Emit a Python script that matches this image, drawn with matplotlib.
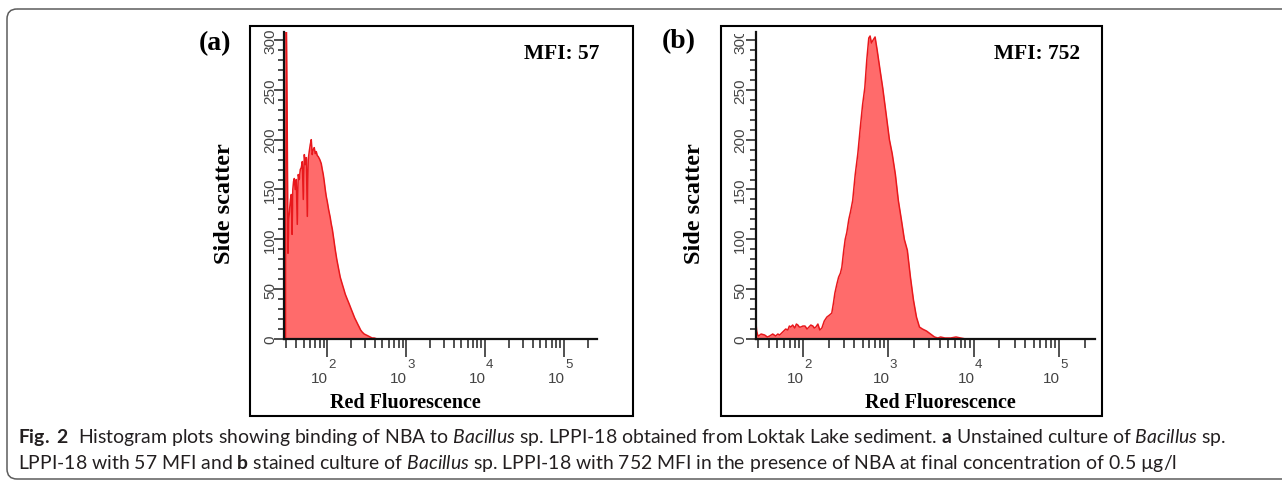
import matplotlib
matplotlib.use("Agg")
import matplotlib.pyplot as plt
from matplotlib.patches import Rectangle, FancyBboxPatch
from matplotlib.transforms import Affine2D, Bbox, blended_transform_factory

W, H, DPI = 1282, 485, 100

# ---------------- data ----------------
# Panel (a): unstained culture, histogram of red fluorescence
a_fluor = [29.6, 30.2, 31.0, 31.8, 32.6, 33.4, 34.2, 35.0, 35.8, 36.6,
           37.4, 38.2, 39.3, 40.5, 41.7, 42.9, 44.2, 45.5, 46.9, 48.3,
           49.7, 51.2, 52.7, 54.3, 55.9, 57.4, 59.1, 60.9, 62.7, 64.5,
           66.4, 68.4, 70.5, 72.6, 74.7, 76.9, 80.4, 83.9, 86.5, 89.0,
           91.6, 94.3, 97.1, 100, 104, 109, 112, 116, 121, 126,
           132, 138, 146, 155, 162, 169, 179, 190, 201, 213,
           223, 233, 243, 254, 265, 277, 294, 312, 331, 350,
           371, 393, 430]
a_count = [0, 340, 228, 86, 120, 131, 140, 145, 105, 150,
           158, 161, 150, 160, 115, 165, 160, 170, 172, 178,
           140, 185, 175, 182, 123, 180, 188, 195, 200, 185,
           190, 192, 186, 188, 184, 183, 180, 176, 170, 165,
           158, 150, 143, 138, 130, 122, 116, 110, 100, 90,
           80, 72, 62, 55, 50, 45, 40, 35, 30, 25,
           21, 18, 15, 12, 9, 7, 5, 4, 3, 2,
           1, 1, 0]

# Panel (b): NBA-stained culture
b_fluor = [28.4, 28.8, 29.6, 30.3, 32.5, 35.7, 38.5, 40.9, 44.4, 48.1,
           51.0, 53.6, 56.5, 59.7, 63.0, 66.7, 69.5, 72.3, 76.0, 80.5,
           84.0, 87.4, 91.0, 94.7, 100, 106, 112, 118, 124, 131,
           136, 142, 150, 158, 167, 178, 191, 205, 218, 228,
           237, 250, 262, 275, 286, 300, 313, 327, 345, 362,
           383, 410, 440, 470, 500, 531, 560, 591, 612, 635,
           665, 700, 740, 800, 860, 945, 1030, 1110, 1210, 1310,
           1420, 1540, 1670, 1815, 1970, 2135, 2315, 2510, 2800, 3120,
           3475, 3800, 4090, 4600, 5360, 6200, 7030, 8050]
b_count = [14, 8, 4, 3, 5, 4, 2, 3, 5, 3,
           5, 4, 6, 8, 10, 9, 13, 12, 14, 11,
           15, 14, 12, 12, 13, 13, 10, 12, 14, 13,
           11, 12, 15, 9, 11, 18, 22, 24, 26, 36,
           46, 55, 62, 66, 72, 88, 100, 107, 120, 128,
           139, 165, 186, 212, 235, 252, 280, 302, 304, 297,
           300, 303, 290, 270, 252, 225, 200, 186, 165, 139,
           120, 100, 89, 62, 39, 22, 12, 10, 8, 5,
           2, 1, 2, 1, 1, 2, 1, 0]

y_major = [0, 50, 100, 150, 200, 250, 300]
y_minor = [v for v in range(0, 301, 10) if v % 50]
x_major = [1e2, 1e3, 1e4, 1e5]
x_exponents = ["2", "3", "4", "5"]
x_minor = ([m * 10 for m in range(3, 10)] + [m * 100 for m in range(2, 10)] +
           [m * 1000 for m in range(2, 10)] + [m * 10000 for m in range(2, 10)] +
           [200000])
x_range = (28.3, 262144)
y_range = (0, 308)

panel_letters = ["(a)", "(b)"]
mfi_labels = ["MFI: 57", "MFI: 752"]
x_title = "Red Fluorescence"
y_title = "Side scatter"
caption1 = (r"$\mathbf{Fig.\ 2}$  Histogram plots showing binding of NBA to $\mathit{Bacillus}$ sp. "
            r"LPPI-18 obtained from Loktak Lake sediment. $\mathbf{a}$ Unstained culture of $\mathit{Bacillus}$ sp.")
caption2 = (r"LPPI-18 with 57 MFI and $\mathbf{b}$ stained culture of $\mathit{Bacillus}$ sp. "
            r"LPPI-18 with 752 MFI in the presence of NBA at final concentration of 0.5 µg/l")

# ---------------- style / layout ----------------
plt.rcParams["mathtext.fontset"] = "custom"
plt.rcParams["mathtext.rm"] = "Lato"
plt.rcParams["mathtext.it"] = "Lato:italic"
plt.rcParams["mathtext.bf"] = "Lato:bold"

FILL = "#ff6b6b"
EDGE = "#e8181c"
TICKC = "#444444"
SERIF = ["Liberation Serif", "DejaVu Serif"]
TICKFONT = ["Liberation Sans", "DejaVu Sans"]

fig = plt.figure(figsize=(W / DPI, H / DPI), dpi=DPI)
PX = Affine2D().scale(1 / DPI, -1 / DPI).translate(0, H / DPI) + fig.dpi_scale_trans

# outer rounded box
fig.patches.append(FancyBboxPatch((7, 10), 1320, 470, boxstyle="round,pad=0,rounding_size=10",
                                  transform=PX, fill=False, ec="#5c5c5c", lw=1.1))

panels = [
    dict(fluor=a_fluor, count=a_count, frame=(250, 27, 633, 417), axes=(284, 33, 597, 340),
         letter=(215, 43.5), mfi_x=599, ylab_x=230, ytick_base=274, clip_top=29, xlab_x=405),
    dict(fluor=b_fluor, count=b_count, frame=(721, 27, 1102, 417), axes=(756, 33, 1095, 340),
         letter=(679, 42), mfi_x=1080, ylab_x=700, ytick_base=744, clip_top=35, xlab_x=940),
]

for i, p in enumerate(panels):
    fx0, fy0, fx1, fy1 = p["frame"]
    fig.patches.append(Rectangle((fx0, fy0), fx1 - fx0, fy1 - fy0, transform=PX,
                                 fill=False, ec="black", lw=1.5))
    x0, y0, x1, y1 = p["axes"]
    ax = fig.add_axes([x0 / W, 1 - y1 / H, (x1 - x0) / W, (y1 - y0) / H])
    ax.set_xscale("log")
    ax.set_xlim(*x_range)
    ax.set_ylim(*y_range)
    ax.patch.set_alpha(0)
    for s in ("top", "right"):
        ax.spines[s].set_visible(False)
    for s in ("left", "bottom"):
        ax.spines[s].set_linewidth(1.6)
        ax.spines[s].set_color("#111111")

    ax.fill_between(p["fluor"], p["count"], 0, color=FILL, lw=0)
    ax.plot(p["fluor"], p["count"], color=EDGE, lw=1.1)

    ax.set_xticks(x_major)
    ax.set_xticks(x_minor, minor=True)
    ax.set_yticks(y_major)
    ax.set_yticks(y_minor, minor=True)
    ax.tick_params(axis="x", which="major", length=13, width=1.1, color="#222222",
                   direction="out", labelbottom=False)
    ax.tick_params(axis="x", which="minor", length=6.5, width=1.1, color="#222222",
                   direction="out", labelbottom=False)
    ax.tick_params(axis="y", which="major", length=7.5, width=1.1, color="#222222",
                   direction="out", labelleft=False)
    ax.tick_params(axis="y", which="minor", length=4.5, width=1.1, color="#222222",
                   direction="out", labelleft=False)

    # y tick labels (rotated, as in the cytometer export)
    ytr = blended_transform_factory(PX, ax.transData)
    clip = Bbox.from_extents(0, 0, W, H - p["clip_top"])
    for v in y_major:
        t = ax.text(p["ytick_base"], v, str(v), transform=ytr, rotation=90,
                    rotation_mode="anchor", ha="center", va="baseline",
                    fontsize=11, family=TICKFONT, color=TICKC)
        t.set_clip_on(True)
        t.set_clip_box(clip)

    # x tick labels 10^n
    xtr = blended_transform_factory(ax.transData, PX)
    for v, e in zip(x_major, x_exponents):
        ax.text(v * 1.03, 383, "10", transform=xtr, ha="right", va="baseline",
                fontsize=11, family=TICKFONT, color=TICKC)
        ax.text(v * 1.03, 368, e, transform=xtr, ha="left", va="baseline",
                fontsize=9.5, family=TICKFONT, color=TICKC)

    # titles and annotations
    fig.text(p["xlab_x"], 408, x_title, transform=PX, ha="center", va="baseline",
             fontsize=14.5, fontweight="bold", family=SERIF)
    fig.text(p["ylab_x"], 204, y_title, transform=PX, rotation=90, rotation_mode="anchor",
             ha="center", va="baseline", fontsize=17.5, fontweight="bold", family=SERIF)
    fig.text(p["letter"][0], p["letter"][1], panel_letters[i], transform=PX, ha="center",
             va="center", fontsize=20, fontweight="bold", family=SERIF)
    fig.text(p["mfi_x"], 59, mfi_labels[i], transform=PX, ha="right", va="baseline",
             fontsize=15.5, fontweight="bold", family=SERIF)

# caption, fitted to the reference line width
cap_fs = 11
c1 = fig.text(18, 443, caption1, transform=PX, ha="left", va="baseline",
              fontsize=cap_fs, family="Lato", color="#231f20")
c2 = fig.text(18, 469, caption2, transform=PX, ha="left", va="baseline",
              fontsize=cap_fs, family="Lato", color="#231f20")
fig.canvas.draw()
w1 = c1.get_window_extent(fig.canvas.get_renderer()).width
for c in (c1, c2):
    c.set_fontsize(cap_fs * 1204 / w1)

fig.savefig("out.png", dpi=DPI)
